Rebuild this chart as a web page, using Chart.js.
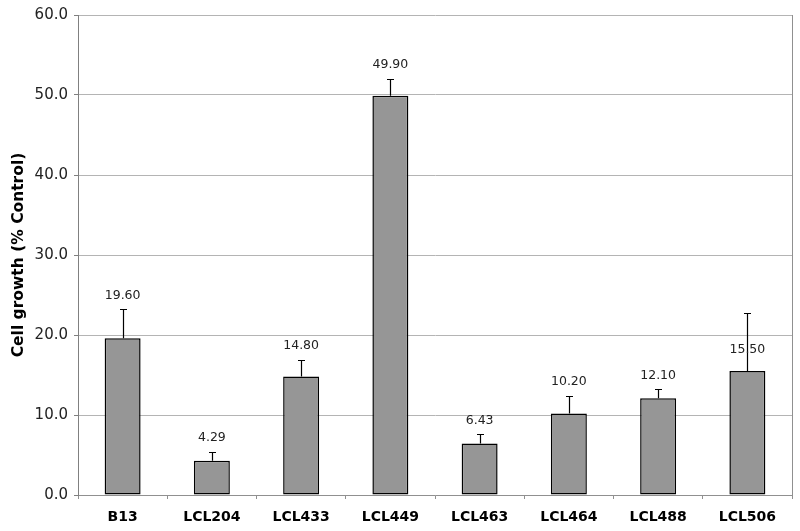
<!DOCTYPE html>
<html>
<head>
<meta charset="utf-8">
<script src="https://cdn.jsdelivr.net/npm/chart.js@4.4.1/dist/chart.umd.min.js"></script>
<style>
  html, body { margin: 0; padding: 0; background: #fff; }
  #wrap { width: 800px; height: 531px; }
</style>
</head>
<body>
<div id="wrap"><canvas id="chart" width="800" height="531"></canvas></div>
<script>
const categories = ['B13', 'LCL204', 'LCL433', 'LCL449', 'LCL463', 'LCL464', 'LCL488', 'LCL506'];
const growth = [19.60, 4.29, 14.80, 49.90, 6.43, 10.20, 12.10, 15.50];
const errorUp = [3.6, 1.1, 2.1, 2.1, 1.15, 2.2, 1.1, 7.3];
const yTicks = [0, 10, 20, 30, 40, 50, 60];

const FONT = 'DejaVu Sans, Verdana, sans-serif';

// error bars (upper only), value labels and the right plot border
const errorBarPlugin = {
    id: 'errorBars',
    afterDatasetsDraw(chart) {
        const ctx = chart.ctx;
        const y = chart.scales.y;
        const area = chart.chartArea;
        const meta = chart.getDatasetMeta(0);
        ctx.save();

        ctx.strokeStyle = '#909090';
        ctx.lineWidth = 1;
        ctx.beginPath();
        ctx.moveTo(Math.round(area.right) + 0.5, area.top);
        ctx.lineTo(Math.round(area.right) + 0.5, area.bottom + 4);
        ctx.stroke();

        meta.data.forEach((bar, i) => {
            const cx = Math.round(bar.x) + 0.5;
            const top = y.getPixelForValue(growth[i]);
            const errTop = y.getPixelForValue(growth[i] + errorUp[i]);
            ctx.strokeStyle = '#000';
            ctx.lineWidth = 1.2;
            ctx.beginPath();
            ctx.moveTo(cx, top);
            ctx.lineTo(cx, Math.round(errTop) + 0.5);
            ctx.moveTo(cx - 3.5, Math.round(errTop) + 0.5);
            ctx.lineTo(cx + 3.5, Math.round(errTop) + 0.5);
            ctx.stroke();

            // last label sits over the bar, the rest above the error cap
            const ly = i === growth.length - 1 ? top - 21 : errTop - 14;
            ctx.fillStyle = '#222';
            ctx.font = '12.5px ' + FONT;
            ctx.textAlign = 'center';
            ctx.textBaseline = 'middle';
            ctx.fillText(growth[i].toFixed(2), bar.x, ly);
        });
        ctx.restore();
    }
};

new Chart(document.getElementById('chart'), {
    type: 'bar',
    data: {
        labels: categories,
        datasets: [{
            data: growth,
            backgroundColor: '#969696',
            borderColor: '#000',
            borderWidth: 1.5,
            borderSkipped: false,
            categoryPercentage: 1,
            barPercentage: 0.403
        }]
    },
    options: {
        responsive: false,
        animation: false,
        layout: { padding: { top: 13, right: 8, left: 0, bottom: 0 } },
        plugins: { legend: { display: false }, tooltip: { enabled: false } },
        scales: {
            x: {
                offset: true,
                grid: { offset: true, drawOnChartArea: false, drawTicks: true, tickLength: 4, color: '#909090' },
                border: { color: '#909090' },
                ticks: { color: '#000', padding: 10, font: { family: FONT, size: 14, weight: 'bold' } },
                afterFit(scale) { scale.height = 36; }
            },
            y: {
                min: 0,
                max: 60,
                afterBuildTicks(scale) { scale.ticks = yTicks.map(v => ({ value: v })); },
                grid: { color: '#b4b4b4', tickLength: 4, tickColor: '#808080' },
                border: { color: '#808080' },
                ticks: {
                    color: '#222',
                    padding: 6,
                    font: { family: FONT, size: 15 },
                    callback: v => v.toFixed(1)
                },
                title: {
                    display: true,
                    text: 'Cell growth (% Control)',
                    color: '#000',
                    font: { family: FONT, size: 15.5, weight: 'bold' },
                    padding: { top: 10, bottom: 0 }
                },
                afterFit(scale) { scale.width = 78; }
            }
        }
    },
    plugins: [errorBarPlugin]
});
</script>
</body>
</html>
